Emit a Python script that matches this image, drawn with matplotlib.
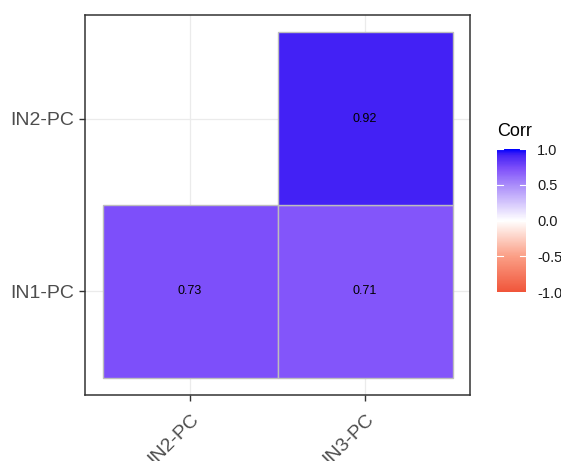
import matplotlib
matplotlib.use('Agg')
import matplotlib.pyplot as plt
import numpy as np
from matplotlib.colors import LinearSegmentedColormap, Normalize
from matplotlib.colorbar import ColorbarBase

plt.rcParams['font.family'] = ['Liberation Sans', 'DejaVu Sans']

# lower-triangle correlations
x_labels = ['IN2-PC', 'IN3-PC']
y_labels = ['IN1-PC', 'IN2-PC']
tile_x = ['IN2-PC', 'IN3-PC', 'IN3-PC']
tile_y = ['IN1-PC', 'IN1-PC', 'IN2-PC']
corr = [0.73, 0.71, 0.92]

# red - white - blue, blended roughly like a Lab gradient
cmap = LinearSegmentedColormap.from_list('corr', [
    (0.00, '#F0553A'), (0.25, '#FB9F86'), (0.50, '#FFFFFF'),
    (0.75, '#A98CFA'), (0.86, '#8152FA'), (0.96, '#4422F5'), (1.00, '#0000FF')])
norm = Normalize(-1, 1)

fig = plt.figure(figsize=(5.61, 4.61), dpi=100)
ax = fig.add_axes([85/561, 1-395/461, 385/561, 380/461])

for xl, yl, v in zip(tile_x, tile_y, corr):
    xi = x_labels.index(xl) + 1
    yi = y_labels.index(yl) + 1
    ax.add_patch(plt.Rectangle((xi-0.5, yi-0.5), 1, 1, facecolor=cmap(norm(v)),
                               edgecolor='#BDBDBD', linewidth=1.0, zorder=2))
    ax.text(xi, yi, '%.2f' % v, ha='center', va='center', fontsize=9, color='black', zorder=3)

ax.set_xlim(0.4, 2.6)
ax.set_ylim(0.4, 2.6)
ax.set_xticks([1, 2])
ax.set_yticks([1, 2])
ax.set_xticklabels(x_labels, rotation=45, ha='right', va='top', rotation_mode='anchor')
ax.set_yticklabels(y_labels)
ax.tick_params(colors='#333333', labelcolor='#4D4D4D', labelsize=14, length=4, width=1)
ax.tick_params(axis='x', pad=7)
ax.grid(color='#EBEBEB', linewidth=0.9, zorder=0)
ax.set_axisbelow(True)
for s in ax.spines.values():
    s.set_color('#333333')
    s.set_linewidth(1.1)

# colour legend
cax = fig.add_axes([497/561, 1-292/461, 29/561, 143/461])
cb = ColorbarBase(cax, cmap=cmap, norm=norm, ticks=[-1, -0.5, 0, 0.5, 1])
cb.outline.set_visible(False)
cb.ax.set_yticklabels(['-1.0', '-0.5', '0.0', '0.5', '1.0'])
cax.tick_params(length=0, labelsize=10.5, labelcolor='#1A1A1A', pad=8)
for t in [-0.5, 0, 0.5, 1]:
    cax.plot([0, 0.2], [t, t], color='white', lw=0.8)
    cax.plot([0.8, 1], [t, t], color='white', lw=0.8)
cax.set_xlim(0, 1)
fig.text(497/561, 1-131/461, 'Corr', fontsize=13, color='black', va='center', ha='left')

plt.savefig('out.png', dpi=100)
